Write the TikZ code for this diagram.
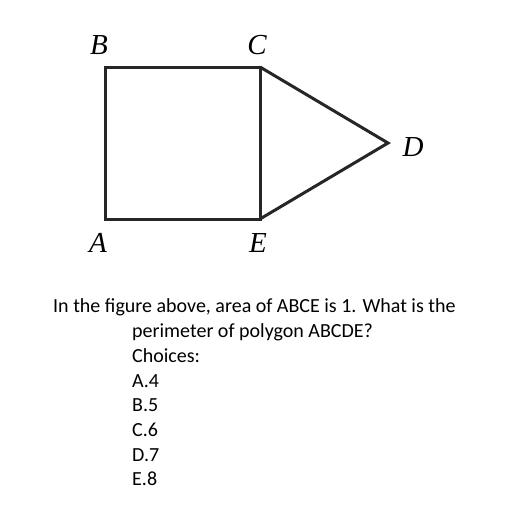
\documentclass[tikz,border=0pt]{standalone}
\usepackage{fontspec}
\setmainfont{Carlito}
\newfontfamily\lblfont{Liberation Serif}
\begin{document}
\begin{tikzpicture}[x=1pt,y=-1pt,
  edge/.style={line width=3pt, line join=miter, black!85},
  lbl/.style={font=\lblfont\itshape\fontsize{29}{29}\selectfont, inner sep=0pt},
  txt/.style={font=\fontsize{20}{20}\selectfont, anchor=base west, inner sep=0pt}]
\useasboundingbox (0,0) rectangle (512,512);
\coordinate (A) at (105,219);
\coordinate (B) at (105,67);
\coordinate (C) at (260,67);
\coordinate (E) at (260,219);
\coordinate (D) at (388,143);
\draw[edge] (A) -- (B) -- (C) -- (E) -- cycle;
\draw[edge] (C) -- (D) -- (E);
\node[lbl] (lB) at (99,45) {B};
\node[lbl] (lC) at (257,45) {C};
\node[lbl] (lD) at (413,147) {D};
\node[lbl] (lA) at (98,243) {A};
\node[lbl] (lE) at (258,243) {E};
\node[txt] (t1) at (53,312) {In the figure above, area of ABCE is 1. What is the};
\node[txt] (t2) at (132,337) {perimeter of polygon ABCDE?};
\node[txt] (t3) at (132,362) {Choices:};
\node[txt] (t4) at (132,387) {A.4};
\node[txt] (t5) at (132,411) {B.5};
\node[txt] (t6) at (132,436) {C.6};
\node[txt] (t7) at (132,461) {D.7};
\node[txt] (t8) at (132,485) {E.8};
\end{tikzpicture}
\end{document}
